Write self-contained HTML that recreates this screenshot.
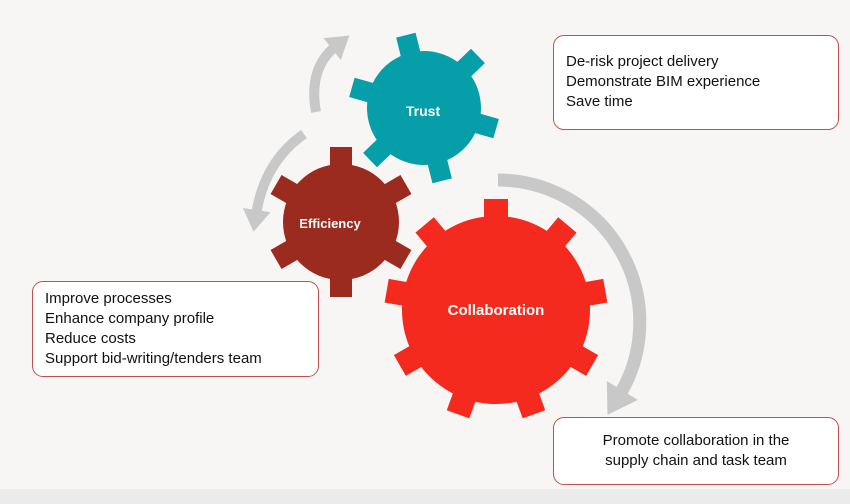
<!DOCTYPE html>
<html><head><style>
body{margin:0;width:850px;height:504px;background:#f7f6f5;overflow:hidden;position:relative;font-family:"Liberation Sans",sans-serif}
.box{position:absolute;background:#fff;border:1px solid #c0504d;border-radius:11px;font-size:15px;color:#111;line-height:20px;box-sizing:border-box}
</style></head><body>
<div style="position:absolute;left:0;top:489px;width:850px;height:15px;background:#ebebeb"></div>
<svg width="850" height="504" style="position:absolute;left:0;top:0">
<defs>
<marker id="ah" markerWidth="2.6" markerHeight="2.8" refX="0.5" refY="1.4" orient="auto"><path d="M0,0 L2.2,1.4 L0,2.8 z" fill="#c8c8c8"/></marker>
</defs>
<g fill="none" stroke="#c8c8c8" stroke-width="10">
<path d="M316,112 Q308,68 336,46" marker-end="url(#ah)"/>
<path d="M304,134 Q264,162 256,215" marker-end="url(#ah)"/>
<path d="M498,180 A142,142 0 0 1 619,396" stroke-width="13" marker-end="url(#ah)"/>
</g>
<g fill="#9b2a1f" transform="translate(341,222)">
<circle r="58"/>
<rect x="-11" y="-75" width="22" height="30"/>
<rect x="-11" y="-75" width="22" height="30" transform="rotate(60)"/>
<rect x="-11" y="-75" width="22" height="30" transform="rotate(120)"/>
<rect x="-11" y="-75" width="22" height="30" transform="rotate(180)"/>
<rect x="-11" y="-75" width="22" height="30" transform="rotate(240)"/>
<rect x="-11" y="-75" width="22" height="30" transform="rotate(300)"/>
</g>
<g fill="#f42a1e" transform="translate(496,310)">
<circle r="94"/>
<rect x="-12" y="-111" width="24" height="30"/>
<rect x="-12" y="-111" width="24" height="30" transform="rotate(40)"/>
<rect x="-12" y="-111" width="24" height="30" transform="rotate(80)"/>
<rect x="-12" y="-111" width="24" height="30" transform="rotate(120)"/>
<rect x="-12" y="-111" width="24" height="30" transform="rotate(160)"/>
<rect x="-12" y="-111" width="24" height="30" transform="rotate(200)"/>
<rect x="-12" y="-111" width="24" height="30" transform="rotate(240)"/>
<rect x="-12" y="-111" width="24" height="30" transform="rotate(280)"/>
<rect x="-12" y="-111" width="24" height="30" transform="rotate(320)"/>
</g>
<g fill="#069ea8" transform="translate(424,108) rotate(-14)">
<circle r="57"/>
<rect x="-10" y="-75" width="20" height="30"/>
<rect x="-10" y="-75" width="20" height="30" transform="rotate(60)"/>
<rect x="-10" y="-75" width="20" height="30" transform="rotate(120)"/>
<rect x="-10" y="-75" width="20" height="30" transform="rotate(180)"/>
<rect x="-10" y="-75" width="20" height="30" transform="rotate(240)"/>
<rect x="-10" y="-75" width="20" height="30" transform="rotate(300)"/>
</g>
<g fill="#fff" font-family="Liberation Sans, sans-serif" font-weight="bold" text-anchor="middle">
<text x="423" y="116" font-size="14">Trust</text>
<text x="330" y="228" font-size="13">Efficiency</text>
<text x="496" y="315" font-size="15">Collaboration</text>
</g>
</svg>
<div class="box" style="left:553px;top:35px;width:286px;height:95px;padding:16px 0 0 12px">De-risk project delivery<br>Demonstrate BIM experience<br>Save time</div>
<div class="box" style="left:32px;top:281px;width:287px;height:96px;padding:7px 0 0 12px">Improve processes<br>Enhance company profile<br>Reduce costs<br>Support bid-writing/tenders team</div>
<div class="box" style="left:553px;top:417px;width:286px;height:68px;padding:13px 0 0 0;text-align:center">Promote collaboration in the<br>supply chain and task team</div>
</body></html>
